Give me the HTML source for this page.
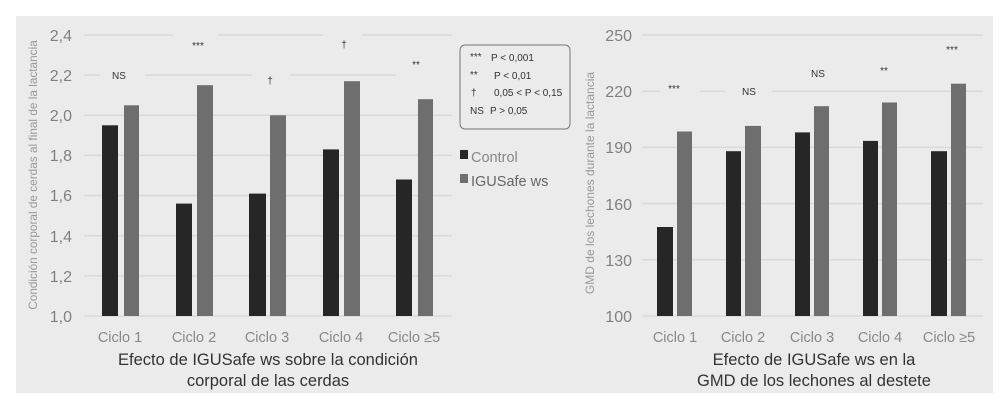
<!DOCTYPE html>
<html><head><meta charset="utf-8"><style>
html,body{margin:0;padding:0;background:#fff;}
svg{display:block;font-family:"Liberation Sans",sans-serif;}
</style></head><body>
<svg width="1000" height="412" viewBox="0 0 1000 412" xmlns="http://www.w3.org/2000/svg">
<rect x="16" y="16" width="977" height="377" fill="#ebebeb"/>
<g stroke="#d9d9d9" stroke-width="1.5">
<line x1="84" y1="35" x2="173" y2="35"/><line x1="218" y1="35" x2="323" y2="35"/><line x1="362" y1="35" x2="452" y2="35"/>
<line x1="84" y1="75" x2="100" y2="75"/><line x1="145" y1="75" x2="252" y2="75"/><line x1="290" y1="75" x2="396" y2="75"/>
<line x1="84" y1="115.3" x2="452" y2="115.3"/><line x1="84" y1="155.4" x2="452" y2="155.4"/><line x1="84" y1="195.6" x2="452" y2="195.6"/>
<line x1="84" y1="235.7" x2="452" y2="235.7"/><line x1="84" y1="275.9" x2="452" y2="275.9"/><line x1="84" y1="316" x2="452" y2="316"/>
<line x1="642" y1="35" x2="983" y2="35"/><line x1="642" y1="91.2" x2="660" y2="91.2"/><line x1="700" y1="91.2" x2="725" y2="91.2"/><line x1="772" y1="91.2" x2="983" y2="91.2"/>
<line x1="642" y1="147.4" x2="983" y2="147.4"/><line x1="642" y1="203.6" x2="983" y2="203.6"/><line x1="642" y1="259.8" x2="983" y2="259.8"/><line x1="642" y1="316" x2="983" y2="316"/>
</g>
<g fill="#262626">
<rect x="102" y="125.3" width="16" height="190.7"/><rect x="176" y="203.6" width="16" height="112.4"/><rect x="249" y="193.6" width="17" height="122.4"/><rect x="323" y="149.4" width="16" height="166.6"/><rect x="396" y="179.5" width="16" height="136.5"/>
<rect x="657" y="227" width="16" height="89"/><rect x="726" y="151.2" width="15" height="164.8"/><rect x="795" y="132.4" width="15" height="183.6"/><rect x="863" y="140.9" width="15" height="175.1"/><rect x="931" y="151.2" width="16" height="164.8"/>
</g>
<g fill="#6e6e6e">
<rect x="124" y="105.3" width="15" height="210.7"/><rect x="197" y="85.2" width="16" height="230.8"/><rect x="270" y="115.3" width="16" height="200.7"/><rect x="344" y="81.2" width="16" height="234.8"/><rect x="418" y="99.2" width="15" height="216.8"/>
<rect x="677" y="131.5" width="15" height="184.5"/><rect x="745" y="125.9" width="16" height="190.1"/><rect x="814" y="106.2" width="15" height="209.8"/><rect x="882" y="102.5" width="15" height="213.5"/><rect x="951" y="83.7" width="15" height="232.3"/>
</g>
<g fill="#808080" font-size="16" text-anchor="end">
<text x="72" y="41">2,4</text><text x="72" y="81">2,2</text><text x="72" y="121">2,0</text><text x="72" y="161">1,8</text><text x="72" y="201">1,6</text><text x="72" y="242">1,4</text><text x="72" y="282">1,2</text><text x="72" y="322">1,0</text>
<text x="632" y="41">250</text><text x="632" y="97">220</text><text x="632" y="153">190</text><text x="632" y="210">160</text><text x="632" y="266">130</text><text x="632" y="322">100</text>
</g>
<g fill="#888" font-size="14.5" text-anchor="middle">
<text x="120" y="342">Ciclo 1</text><text x="194" y="342">Ciclo 2</text><text x="267" y="342">Ciclo 3</text><text x="341" y="342">Ciclo 4</text><text x="414" y="342">Ciclo ≥5</text>
<text x="675" y="342">Ciclo 1</text><text x="743" y="342">Ciclo 2</text><text x="812" y="342">Ciclo 3</text><text x="880" y="342">Ciclo 4</text><text x="949" y="342">Ciclo ≥5</text>
</g>
<text transform="translate(37,175) rotate(-90)" fill="#999" font-size="11.8" text-anchor="middle">Condición corporal de cerdas al final de la lactancia</text>
<text transform="translate(594,183) rotate(-90)" fill="#999" font-size="12" text-anchor="middle">GMD de los lechones durante la lactancia</text>
<g fill="#333" font-size="16.5" text-anchor="middle">
<text x="268" y="365">Efecto de IGUSafe ws sobre la condición</text><text x="268" y="386">corporal de las cerdas</text>
<text x="814" y="365">Efecto de IGUSafe ws en la</text><text x="814" y="386">GMD de los lechones al destete</text>
</g>
<g fill="#333" font-size="10" text-anchor="middle">
<text x="119" y="79">NS</text><text x="198" y="49">***</text><text x="270" y="84">†</text><text x="344" y="48">†</text><text x="416" y="68">**</text>
<text x="674" y="92">***</text><text x="749" y="95">NS</text><text x="818" y="77">NS</text><text x="884" y="74">**</text><text x="952" y="53">***</text>
</g>
<rect x="460" y="45" width="110" height="84" rx="5" fill="none" stroke="#777" stroke-width="1"/>
<g fill="#333" font-size="10">
<text x="470" y="60">***</text><text x="491" y="61">P &lt; 0,001</text>
<text x="470" y="78">**</text><text x="494" y="79">P &lt; 0,01</text>
<text x="471" y="96">†</text><text x="494" y="96">0,05 &lt; P &lt; 0,15</text>
<text x="470" y="114">NS</text><text x="490" y="114">P &gt; 0,05</text>
</g>
<rect x="460" y="150" width="8" height="9" fill="#262626"/><text x="471" y="162" fill="#888" font-size="14.5">Control</text>
<rect x="460" y="174" width="8" height="9" fill="#6e6e6e"/><text x="471" y="186" fill="#666" font-size="14.5">IGUSafe ws</text>
</svg>
</body></html>
